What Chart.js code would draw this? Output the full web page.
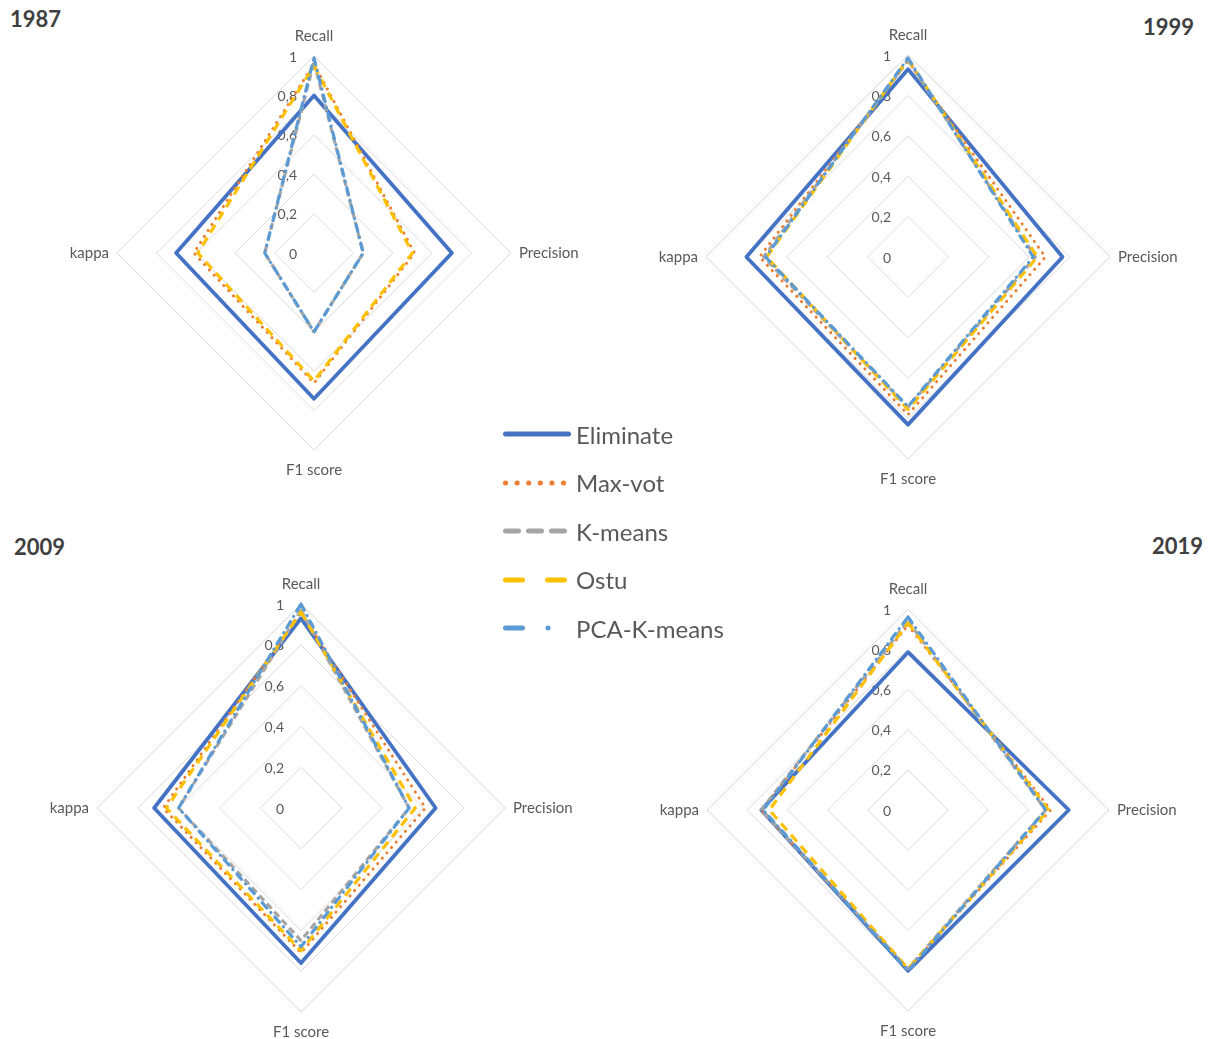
<!DOCTYPE html>
<html>
<head>
<meta charset="utf-8">
<title>Radar charts by year</title>
<script src="https://cdn.jsdelivr.net/npm/chart.js@4.4.0/dist/chart.umd.min.js"></script>
<style>
  body { margin: 0; width: 1215px; height: 1039px; background: #fff; position: relative; overflow: hidden; font-family: Lato, sans-serif; }
  canvas.radar { position: absolute; }
  .year { position: absolute; font: bold 22px Lato, sans-serif; color: #404040; line-height: 22px; }
  #legend { position: absolute; left: 503px; top: 410px; }
  .row { display: flex; align-items: center; height: 48.5px; }
  .row span { font-size: 24px; color: #595959; margin-left: 5px; }
</style>
</head>
<body>
<div class="year" style="left:10px; top:8px;">1987</div>
<div class="year" style="left:1143px; top:16px;">1999</div>
<div class="year" style="left:14px; top:536px;">2009</div>
<div class="year" style="left:1152px; top:535px;">2019</div>
<canvas class="radar" id="c1987"></canvas>
<canvas class="radar" id="c1999"></canvas>
<canvas class="radar" id="c2009"></canvas>
<canvas class="radar" id="c2019"></canvas>
<div id="legend"></div>

<script type="text/javascript">
  const metrics = ['Recall', 'Precision', 'F1 score', 'kappa'];
  const methods = ['Eliminate', 'Max-vot', 'K-means', 'Ostu', 'PCA-K-means'];
  const tickValues = [0, 0.2, 0.4, 0.6, 0.8, 1];

  // values per year, in metric order: Recall, Precision, F1 score, kappa
  const eliminate1987 = [0.80, 0.70, 0.74, 0.70];
  const maxvot1987 = [0.96, 0.51, 0.66, 0.61];
  const kmeans1987 = [0.97, 0.25, 0.40, 0.25];
  const ostu1987 = [0.95, 0.50, 0.65, 0.59];
  const pcaKmeans1987 = [0.99, 0.25, 0.40, 0.25];

  const eliminate1999 = [0.93, 0.765, 0.83, 0.80];
  const maxvot1999 = [0.97, 0.68, 0.78, 0.735];
  const kmeans1999 = [0.975, 0.63, 0.745, 0.715];
  const ostu1999 = [0.98, 0.64, 0.755, 0.70];
  const pcaKmeans1999 = [0.985, 0.62, 0.74, 0.705];

  const eliminate2009 = [0.93, 0.66, 0.76, 0.72];
  const maxvot2009 = [0.96, 0.61, 0.71, 0.675];
  const kmeans2009 = [0.97, 0.53, 0.65, 0.60];
  const ostu2009 = [0.96, 0.56, 0.70, 0.66];
  const pcaKmeans2009 = [1.0, 0.53, 0.68, 0.60];

  const eliminate2019 = [0.785, 0.80, 0.80, 0.73];
  const maxvot2019 = [0.92, 0.71, 0.79, 0.73];
  const kmeans2019 = [0.94, 0.685, 0.79, 0.73];
  const ostu2019 = [0.93, 0.70, 0.79, 0.69];
  const pcaKmeans2019 = [0.96, 0.685, 0.80, 0.72];

  const colors = ['#4472C4', '#ED7D31', '#A5A5A5', '#FFC000', '#5B9BD5'];
  const widths = [3.8, 3, 3.2, 3.2, 3.2];
  const caps = ['butt', 'round', 'butt', 'butt', 'round'];
  const dashes = [[], [0.1, 7], [7, 4], [9, 6], [7, 6, 0.1, 6]];
  const legendDashes = [[], [0.1, 11.5], [13, 10], [17, 25], [17, 25.5, 0.1, 40]];

  Chart.defaults.font.family = 'Lato, sans-serif';

  // tick labels sit just left of the Recall axis, under the lines
  const sideTicks = {
    id: 'sideTicks',
    beforeDatasetsDraw(chart) {
      const scale = chart.scales.r;
      const ctx = chart.ctx;
      ctx.save();
      ctx.font = '14px Lato, sans-serif';
      ctx.fillStyle = '#595959';
      ctx.textAlign = 'right';
      ctx.textBaseline = 'middle';
      scale.ticks.forEach(t => {
        const d = scale.getDistanceFromCenterForValue(t.value);
        ctx.fillText(t.label, scale.xCenter - 17, scale.yCenter - d + 1);
      });
      ctx.restore();
    }
  };

  function makeRadar(id, cx, cy, radius, series) {
    const canvas = document.getElementById(id);
    const half = radius + 29;
    canvas.width = 640;
    canvas.height = half * 2;
    canvas.style.left = (cx - 320) + 'px';
    canvas.style.top = (cy - half) + 'px';
    new Chart(canvas.getContext('2d'), {
      type: 'radar',
      data: {
        labels: metrics,
        datasets: methods.map((m, i) => ({
          label: m,
          data: series[i],
          borderColor: colors[i],
          borderWidth: widths[i],
          borderDash: dashes[i],
          borderCapStyle: caps[i],
          borderJoinStyle: 'round',
          fill: false,
          pointRadius: 0,
          order: 5 - i
        }))
      },
      options: {
        responsive: false,
        animation: false,
        layout: { padding: 0 },
        plugins: { legend: { display: false }, tooltip: { enabled: false } },
        elements: { line: { tension: 0 } },
        scales: {
          r: {
            min: tickValues[0],
            max: tickValues[tickValues.length - 1],
            ticks: {
              display: false,
              stepSize: 0.2,
              callback: v => String(+v.toFixed(1)).replace('.', ',')
            },
            grid: { circular: false, color: '#D9D9D9', lineWidth: 1 },
            angleLines: { display: false },
            pointLabels: {
              font: { size: 15 },
              color: '#595959',
              // side labels sit a little closer than top and bottom ones
              padding: c => (c.index % 2 ? 8 : 11)
            }
          }
        }
      },
      plugins: [sideTicks]
    });
  }

  makeRadar('c1987', 314, 253, 197, [eliminate1987, maxvot1987, kmeans1987, ostu1987, pcaKmeans1987]);
  makeRadar('c1999', 908, 257, 202, [eliminate1999, maxvot1999, kmeans1999, ostu1999, pcaKmeans1999]);
  makeRadar('c2009', 301, 808, 204, [eliminate2009, maxvot2009, kmeans2009, ostu2009, pcaKmeans2009]);
  makeRadar('c2019', 908, 810, 201, [eliminate2019, maxvot2019, kmeans2019, ostu2019, pcaKmeans2019]);

  // shared legend in the middle
  const legend = document.getElementById('legend');
  methods.forEach((m, i) => {
    const row = document.createElement('div');
    row.className = 'row';
    const sample = document.createElement('canvas');
    sample.width = 68;
    sample.height = 12;
    const g = sample.getContext('2d');
    g.strokeStyle = colors[i];
    g.lineWidth = 5;
    g.lineCap = 'round';
    g.setLineDash(legendDashes[i]);
    g.beginPath();
    g.moveTo(2.5, 6);
    g.lineTo(65.5, 6);
    g.stroke();
    const text = document.createElement('span');
    text.textContent = m;
    row.appendChild(sample);
    row.appendChild(text);
    legend.appendChild(row);
  });
</script>
</body>
</html>
